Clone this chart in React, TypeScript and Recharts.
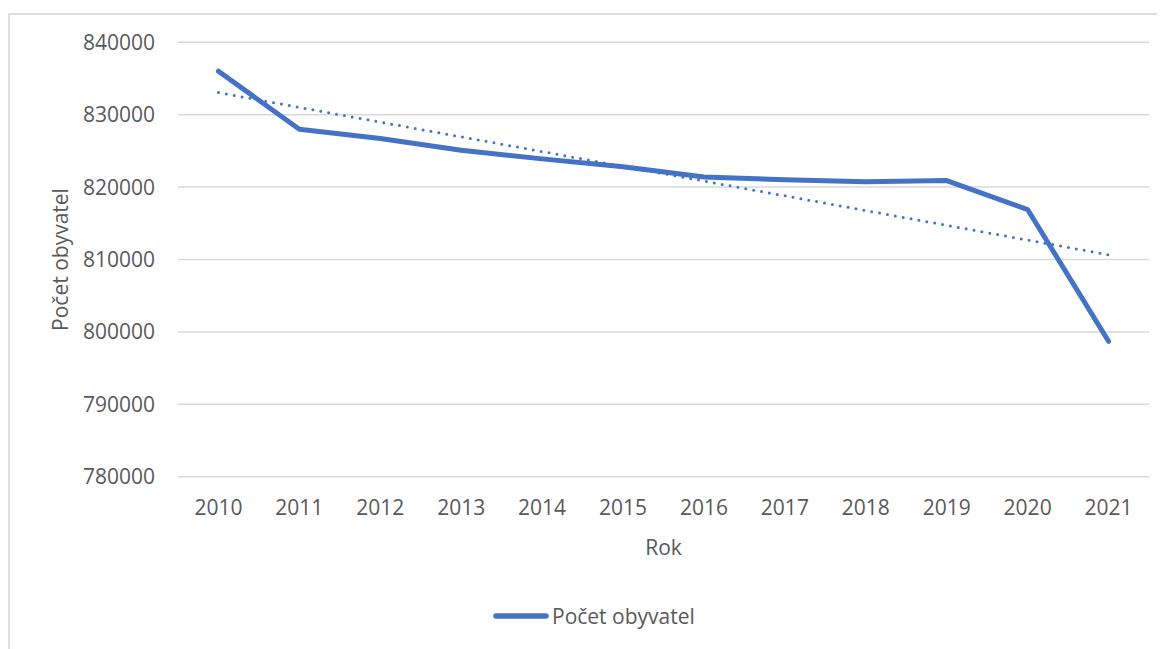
import React from 'react';
import { LineChart, Line, XAxis, YAxis, CartesianGrid, Legend, ReferenceLine } from 'recharts';

const years = ['2010', '2011', '2012', '2013', '2014', '2015', '2016', '2017', '2018', '2019', '2020', '2021'];
const population = [836000, 828000, 826700, 825100, 823900, 822800, 821400, 821000, 820750, 820900, 816900, 798700];
const trendYears = ['2010', '2021'];
const trendValues = [833050, 810650];
const yTicks = [780000, 790000, 800000, 810000, 820000, 830000, 840000];
const seriesName = 'Počet obyvatel';
const xTitle = 'Rok';
const yTitle = 'Počet obyvatel';

const data = years.map((y, i) => ({ year: y, value: population[i] }));

const FONT = '"Open Sans", sans-serif';
const TEXT = '#595959';
const BLUE = '#4472C4';

const renderYLabel = (props: any) => {
  const vb = props.viewBox || {};
  const cx = (vb.x || 0) + 60;
  const cy = (vb.y || 0) + (vb.height || 0) / 2;
  return (
    <text x={cx} y={cy} transform={`rotate(-90, ${cx}, ${cy})`} textAnchor="middle" fontFamily={FONT} fontSize={21} fill={TEXT}>
      {yTitle}
    </text>
  );
};

const renderXLabel = (props: any) => {
  const vb = props.viewBox || {};
  const cx = (vb.x || 0) + (vb.width || 0) / 2;
  const by = (vb.y || 0) + 78;
  return (
    <text x={cx} y={by} textAnchor="middle" fontFamily={FONT} fontSize={21} fill={TEXT}>
      {xTitle}
    </text>
  );
};

const renderLegend = () => (
  <div style={{ display: 'flex', alignItems: 'center', paddingLeft: 485, height: 24, fontFamily: FONT, fontSize: 21, color: TEXT }}>
    <svg width={56} height={10} style={{ display: 'block' }}>
      <line x1={3} y1={5} x2={53} y2={5} stroke={BLUE} strokeWidth={5.5} strokeLinecap="round" />
    </svg>
    <span style={{ marginLeft: 3, lineHeight: '24px' }}>{seriesName}</span>
  </div>
);

export default function App() {
  return (
    <div style={{ position: 'relative', width: 1157, height: 641 }}>
      <div
        style={{
          position: 'absolute',
          left: 0,
          top: 5,
          width: 1157,
          height: 636,
          boxSizing: 'border-box',
          borderTop: '2px solid #dedede',
          borderLeft: '2px solid #dedede',
        }}
      />
      <div style={{ position: 'absolute', left: 0, top: 0 }}>
        <LineChart width={1157} height={641} data={data} margin={{ top: 34.3, right: 16, left: 0, bottom: 92.3 }}>
          <CartesianGrid vertical={false} stroke="#d9d9d9" strokeWidth={1.5} />
          <XAxis
            dataKey="year"
            height={80}
            axisLine={false}
            tickLine={false}
            tickSize={0}
            tickMargin={23}
            padding={{ left: 40.45, right: 40.45 }}
            tick={{ fill: TEXT, fontSize: 21, fontFamily: FONT }}
            interval={0}
            label={renderXLabel}
          />
          <YAxis
            width={170}
            domain={[780000, 840000]}
            ticks={yTicks}
            axisLine={false}
            tickLine={false}
            tickSize={0}
            tickMargin={23}
            tick={{ fill: TEXT, fontSize: 21, fontFamily: FONT }}
            label={renderYLabel}
          />
          <ReferenceLine
            segment={[
              { x: trendYears[0], y: trendValues[0] },
              { x: trendYears[1], y: trendValues[1] },
            ]}
            stroke={BLUE}
            strokeWidth={3}
            strokeDasharray="0 8"
            strokeLinecap="round"
            ifOverflow="visible"
          />
          <Line
            type="linear"
            dataKey="value"
            name={seriesName}
            stroke={BLUE}
            strokeWidth={5}
            strokeLinecap="round"
            strokeLinejoin="round"
            dot={false}
            activeDot={false}
            isAnimationActive={false}
          />
          <Legend verticalAlign="middle" layout="horizontal" align="center" wrapperStyle={{ top: 596, left: 0, width: 1157 }} content={renderLegend} />
        </LineChart>
      </div>
    </div>
  );
}
